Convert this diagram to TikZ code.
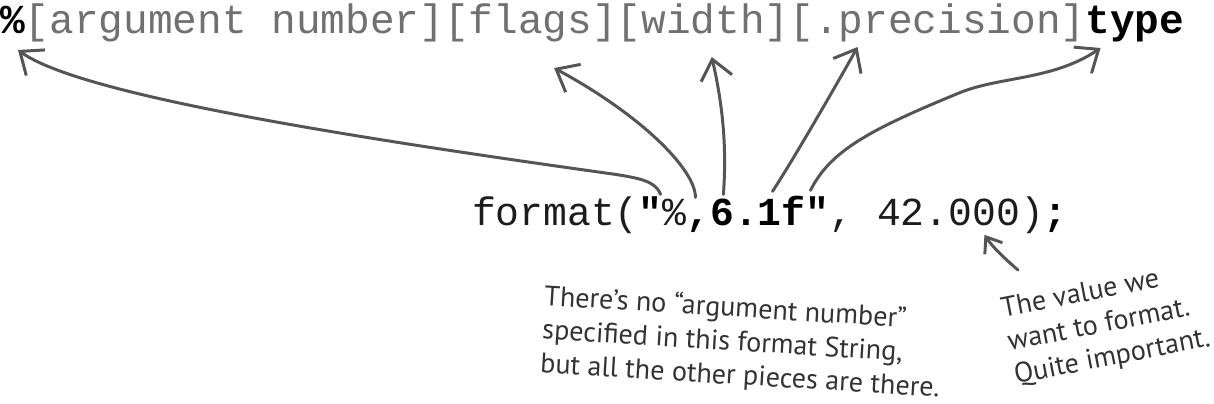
\documentclass[tikz,border=0pt]{standalone}
\usepackage{fontspec}
\usetikzlibrary{positioning,calc,arrows.meta}
\newfontfamily\codefont{Liberation Mono}
\newfontfamily\handfont{PT Sans}
\definecolor{fieldgray}{HTML}{707070}
\definecolor{inkgray}{HTML}{555555}
\definecolor{codeblack}{HTML}{1C1C1C}

\begin{document}
\begin{tikzpicture}[x=0.02cm, y=-0.02cm,
    top/.style    ={inner sep=0, outer sep=0, text depth=0pt, text=fieldgray, font=\codefont\fontsize{23.4}{28}\selectfont},
    topbold/.style={top, text=black, font=\codefont\fontsize{23.4}{28}\selectfont\bfseries},
    code/.style   ={inner sep=0, outer sep=0, text height=14pt, text depth=5pt, text=codeblack, font=\codefont\fontsize{22.6}{27}\selectfont},
    codebold/.style={code, text=black, font=\codefont\fontsize{22.6}{27}\selectfont\bfseries},
    note/.style   ={inner sep=0, align=left, text=black!80, font=\handfont\fontsize{16}{19.2}\selectfont},
    arr/.style    ={draw=inkgray, line width=1.7pt, line cap=round, line join=round, -{Straight Barb[length=11pt,width=18pt]}},
  ]
  \useasboundingbox (0,0) rectangle (1214,403);
  % format specifier fields
  \node[topbold, anchor=base west] (pcttop) at (0,33) {\%};
  \node[top, base right=0pt of pcttop] (argnum) {[argument number]};
  \node[top, base right=0pt of argnum] (flags) {[flags]};
  \node[top, base right=0pt of flags] (width) {[width]};
  \node[top, base right=0pt of width] (prec) {[.precision]};
  \node[topbold, base right=0pt of prec] (type) {type};
  % the call
  \node[code, anchor=base west] (fmt) at (472,225) {format(};
  \node[codebold, base right=0pt of fmt] (qa) {"};
  \node[code, base right=0pt of qa] (pct) {\%};
  \node[codebold, base right=0pt of pct] (spec) {,6.1f"};
  \node[code, base right=0pt of spec] (val) {, 42.000)};
  \node[codebold, base right=0pt of val] (semi) {;};
  % notes
  \node[note, rotate=-3.5, anchor=north west] (nonote) at (545,283)
    {There’s no “argument number”\\specified in this format String,\\but all the other pieces are there.};
  \node[note, rotate=11, anchor=north west] (valnote) at (999,298)
    {The value we\\want to format.\\Quite important.};
  % arrows
  \draw[arr] ($(pct.north west)+(-2,-6)$) .. controls +(-5,-13) and +(25,4) .. ++(-45,-20)
    .. controls +(-265,-37) and +(62,45) .. ($(pcttop.south west)+(18,17)$);
  \draw[arr] ($(spec.north west)+(9,-3)$) .. controls +(0,-28) and +(87,47) .. ($(flags.south west)+(110,35)$);
  \draw[arr] ($(spec.north west)+(37,-6)$) .. controls +(3,-45) and +(12,53) .. ($(width.south west)+(95,24)$);
  \draw[arr] ($(spec.north west)+(86,-9)$) .. controls +(20,-30) and +(-12,22) .. ($(prec.south west)+(68,14)$);
  \draw[arr] ($(spec.north west)+(124,-10)$) .. controls +(20,-40) and +(-90,37) .. ++(150,-98)
    .. controls +(40,-16) and +(-47,32) .. ($(type.south west)+(15,15)$);
  \draw[arr, -{Straight Barb[length=8pt,width=12pt]}] ($(valnote.north west)+(19,-28)$)
    .. controls +(-14,-12) and +(8,12) .. ($(val.south west)+(155,1)$);
\end{tikzpicture}
\end{document}
